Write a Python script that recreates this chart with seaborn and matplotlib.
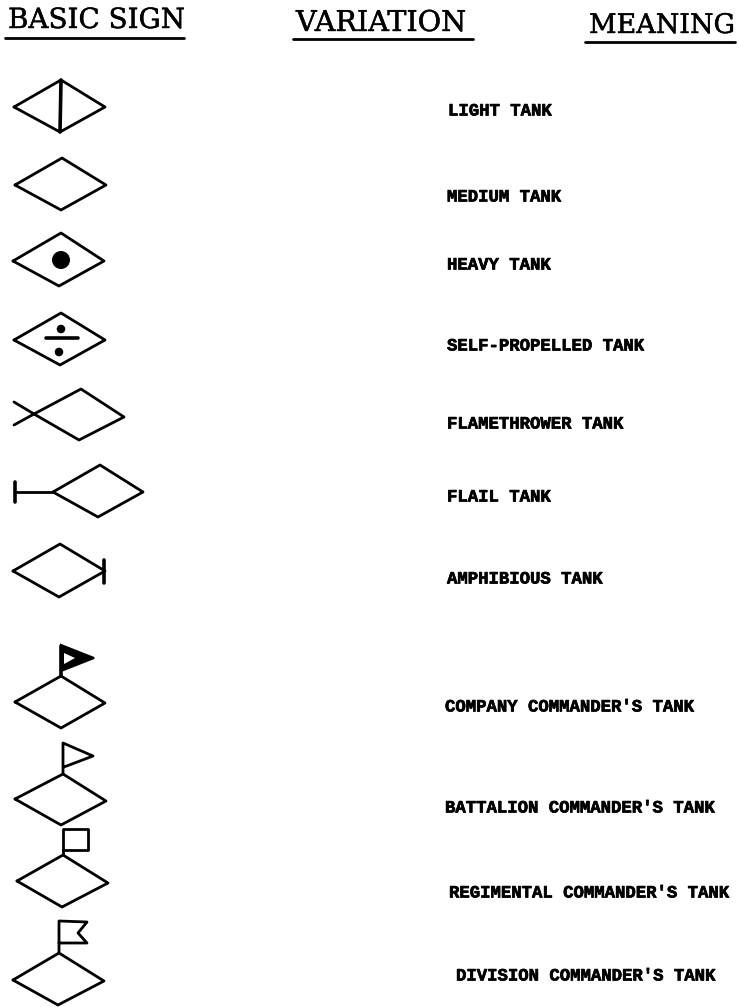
import seaborn as sns
import pandas as pd
import matplotlib.pyplot as plt
import matplotlib.patheffects as pe

# Header text and where the underlines go
headers = ['BASIC SIGN', 'VARIATION', 'MEANING']
header_x = [8, 296, 589]
header_y = [28, 31, 33]
header_pt = [20, 20.6, 19.4]
underline_x0 = [5, 293, 585]
underline_x1 = [184, 473, 735]
underline_y = [38, 39, 42]

# Row labels
meanings = ['LIGHT TANK', 'MEDIUM TANK', 'HEAVY TANK', 'SELF-PROPELLED TANK',
            'FLAMETHROWER TANK', 'FLAIL TANK', 'AMPHIBIOUS TANK',
            "COMPANY COMMANDER'S TANK", "BATTALION COMMANDER'S TANK",
            "REGIMENTAL COMMANDER'S TANK", "DIVISION COMMANDER'S TANK"]
meaning_x = [448, 447, 447, 447, 447, 447, 447, 445, 445, 449, 456]
meaning_y = [111, 197, 265, 346, 424, 497, 579, 707, 808, 893, 976]

# Diamond corners, one entry per row
left_x = [14, 15, 13, 14, 34, 53, 13, 15, 15, 17, 13]
left_y = [107, 185, 261, 340, 414, 492, 571, 702, 799, 881, 980]
top_x = [61, 62, 61, 61, 81, 100, 60, 61, 63, 63, 59]
top_y = [80, 158, 233, 313, 389, 465, 544, 676, 774, 855, 953]
right_x = [105, 106, 104, 105, 124, 143, 105, 105, 106, 108, 104]
right_y = [107, 185, 261, 340, 417, 492, 571, 703, 801, 883, 981]
bottom_x = [60, 61, 59, 60, 79, 98, 59, 61, 61, 62, 58]
bottom_y = [132, 210, 286, 365, 440, 517, 597, 728, 825, 907, 1005]

# Extra strokes inside or attached to the diamonds
light_bar_x, light_bar_y = [61, 60], [80, 132]
divide_bar_x, divide_bar_y = [46, 78], [338, 338]
flame_x, flame_y = [14, 34, 14], [402, 414, 425]
flail_stem_x, flail_stem_y = [15, 53], [492, 492]
flail_end_x, flail_end_y = [15, 15], [482, 502]
amphib_end_x, amphib_end_y = [104, 104], [560, 583]
company_mast_x, company_mast_y = [61, 61], [676, 646]
battalion_flag_x = [63, 63, 93, 64]
battalion_flag_y = [774, 743, 756, 767]
regiment_flag_x = [63, 63, 88, 88, 63]
regiment_flag_y = [855, 829, 829, 850, 850]
division_flag_x = [59, 59, 87, 78, 87, 59]
division_flag_y = [953, 921, 922, 933, 943, 943]

# Dots: heavy tank, then the two of the self-propelled sign
dot_x = [61, 61, 59]
dot_y = [260, 329, 352]
dot_size = [168, 38, 38]

# Company commander pennant
pennant_x = [61, 94, 61]
pennant_y = [645, 658, 671]
pennant_hole_x = [64, 75, 64]
pennant_hole_y = [653, 658, 664]


def to_frame(stroke_list):
    rows = []
    for n, (xs, ys) in enumerate(stroke_list):
        for x, y in zip(xs, ys):
            rows.append({'stroke': n, 'x': x, 'y': y})
    return pd.DataFrame(rows)


thin = []
for i in range(len(left_x)):
    thin.append(([left_x[i], top_x[i], right_x[i], bottom_x[i], left_x[i]],
                 [left_y[i], top_y[i], right_y[i], bottom_y[i], left_y[i]]))
thin += [(flame_x, flame_y), (flail_stem_x, flail_stem_y),
         (battalion_flag_x, battalion_flag_y),
         (regiment_flag_x, regiment_flag_y),
         (division_flag_x, division_flag_y)]
for n in range(len(headers)):
    thin.append(([underline_x0[n], underline_x1[n]], [underline_y[n], underline_y[n]]))

thick = [(light_bar_x, light_bar_y), (divide_bar_x, divide_bar_y),
         (flail_end_x, flail_end_y), (amphib_end_x, amphib_end_y),
         (company_mast_x, company_mast_y)]

sns.set_theme(style='white')

fig = plt.figure(figsize=(7.39, 10.07), dpi=100)
ax = fig.add_axes([0, 0, 1, 1])

sns.lineplot(data=to_frame(thin), x='x', y='y', units='stroke', estimator=None, sort=False,
             color='black', linewidth=2.0, legend=False, ax=ax,
             solid_joinstyle='round', solid_capstyle='round')
sns.lineplot(data=to_frame(thick), x='x', y='y', units='stroke', estimator=None, sort=False,
             color='black', linewidth=2.6, legend=False, ax=ax,
             solid_capstyle='round')

dots = pd.DataFrame({'x': dot_x, 'y': dot_y, 's': dot_size})
sns.scatterplot(data=dots, x='x', y='y', size='s', sizes=(38, 168), color='black',
                linewidth=0, legend=False, ax=ax)

ax.fill(pennant_x, pennant_y, color='black', linewidth=1.5)
ax.fill(pennant_hole_x, pennant_hole_y, color='white', linewidth=0)

for t, x, y, pt in zip(headers, header_x, header_y, header_pt):
    ax.text(x, y, t, family='DejaVu Serif', fontsize=pt, color='black',
            ha='left', va='baseline',
            path_effects=[pe.withStroke(linewidth=0.3, foreground='black')])

for t, x, y in zip(meanings, meaning_x, meaning_y):
    ax.text(x, y, t, family='Liberation Mono', fontweight='bold', fontsize=12.45,
            color='black', ha='left', va='center',
            path_effects=[pe.withStroke(linewidth=0.5, foreground='black')])

ax.set_xlim(0, 739)
ax.set_ylim(1007, 0)
ax.axis('off')

fig.savefig('out.png', dpi=100, facecolor='white')
